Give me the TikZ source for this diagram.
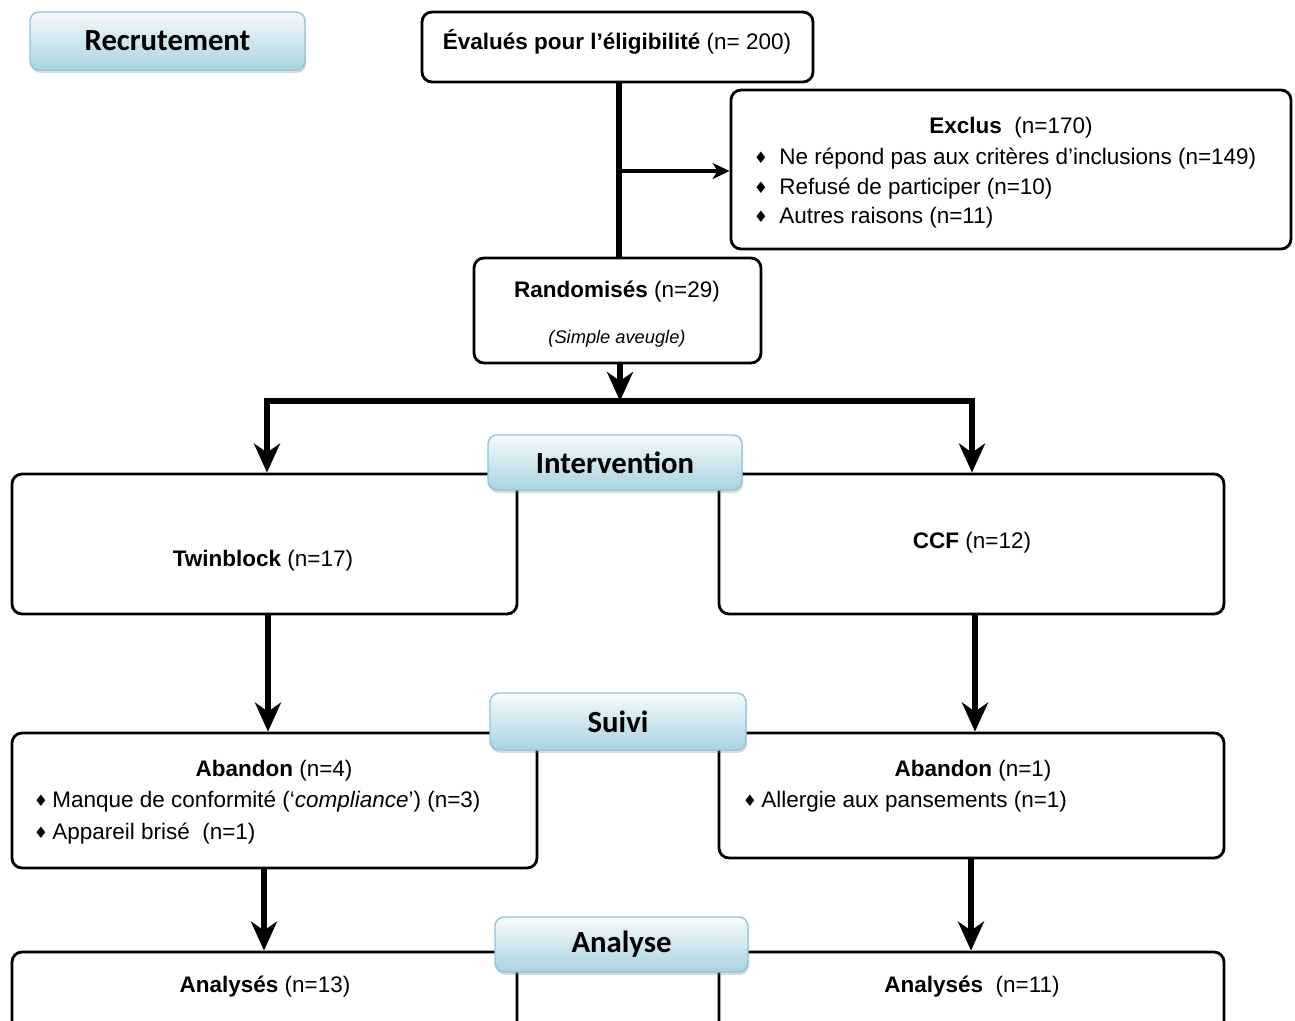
\documentclass[tikz,border=0pt]{standalone}
\usepackage{fontspec}
\setmainfont{Liberation Sans}
\newfontfamily\stagefont{Carlito}
\newfontfamily\symfont{DejaVu Sans}
\usetikzlibrary{arrows.meta,shadows,calc}
\definecolor{stageTop}{HTML}{F6FAFC}
\definecolor{stageBot}{HTML}{A8D3E1}
\definecolor{stageEdge}{HTML}{8FC7D9}
\newcommand\bul{{\symfont\fontsize{9}{9}\selectfont ♦}}
\tikzset{
  head/.tip={Stealth[length=0.58cm, width=0.52cm, inset=0.18cm]},
  sidehead/.tip={Stealth[length=0.34cm, width=0.32cm, inset=0.1cm]}
}

\begin{document}
\begin{tikzpicture}[x=0.02cm,y=-0.02cm,
  every node/.style={font=\fontsize{12.8}{17}\selectfont},
  sz/.style 2 args={minimum width=#1*0.02cm, minimum height=#2*0.02cm},
  box/.style={draw, line width=1.6pt, rounded corners=0.2cm, fill=white, inner sep=0pt},
  stage/.style={draw=stageEdge, line width=0.8pt, rounded corners=0.18cm,
    top color=stageTop, bottom color=stageBot, inner sep=0pt,
    font=\stagefont\bfseries\fontsize{17.5}{20}\selectfont,
    drop shadow={shadow xshift=0.6pt, shadow yshift=-1.6pt, opacity=0.3}},
  txt/.style={inner sep=0pt, anchor=mid},
  ltxt/.style={inner sep=0pt, anchor=mid west},
  small/.style={font=\fontsize{10.4}{12}\selectfont\itshape},
  trunk/.style={line width=3pt},
  flow/.style={trunk, -{head}},
  side/.style={line width=2pt, -{sidehead}}
]
\useasboundingbox (0,0) rectangle (1295,1021);
\clip (0,0) rectangle (1295,1021);
\fill[white] (0,0) rectangle (1295,1021);

% boxes
\node[box, sz={391}{70}] (eval) at (617.5,47) {};
\node[box, sz={560}{159}] (excl) at (1011,169.5) {};
\node[box, sz={287}{105}] (rand) at (617.5,310.5) {};
\node[box, sz={505}{140}] (twin) at (264.5,544) {};
\node[box, sz={505}{140}] (ccf) at (971.5,544) {};
\node[box, sz={525}{135}] (abL) at (274.5,800.5) {};
\node[box, sz={505}{125}] (abR) at (971.5,795.5) {};
\node[box, sz={505}{110}] (anL) at (264.5,1007) {};
\node[box, sz={505}{110}] (anR) at (971.5,1007) {};

% box texts
\node[txt] (evalT) at (617,45) {\textbf{Évalués pour l’éligibilité} (n= 200)};
\node[txt] (exclT) at (1011,129) {\textbf{Exclus}\ \ (n=170)};
\node[txt] (exB1) at (761,159) {\bul};
\node[txt] (exB2) at (761,189) {\bul};
\node[txt] (exB3) at (761,218) {\bul};
\node[ltxt] (ex1) at (779,160) {Ne répond pas aux critères d’inclusions (n=149)};
\node[ltxt] (ex2) at (779,190) {Refusé de participer (n=10)};
\node[ltxt] (ex3) at (779,219) {Autres raisons (n=11)};
\node[txt] (randT) at (617,293) {\textbf{Randomisés} (n=29)};
\node[txt, small] (randS) at (617,339) {(Simple aveugle)};
\node[txt] (twinT) at (263,562) {\textbf{Twinblock} (n=17)};
\node[txt] (ccfT) at (972,544) {\textbf{CCF} (n=12)};
\node[txt] (abLT) at (274,772) {\textbf{Abandon} (n=4)};
\node[txt] (abLB1) at (41,802) {\bul};
\node[txt] (abLB2) at (41,834) {\bul};
\node[ltxt] (abL1) at (52,803) {Manque de conformité (‘\textit{compliance}’) (n=3)};
\node[ltxt] (abL2) at (52,835) {Appareil brisé\ \ (n=1)};
\node[txt] (abRT) at (973,772) {\textbf{Abandon} (n=1)};
\node[txt] (abRB1) at (750,802) {\bul};
\node[ltxt] (abR1) at (761,803) {Allergie aux pansements (n=1)};
\node[txt] (anLT) at (265,988) {\textbf{Analysés} (n=13)};
\node[txt] (anRT) at (972,988) {\textbf{Analysés}\ \ (n=11)};

% connectors
\coordinate (brk) at (619,171);
\coordinate (split) at (620,401);
\coordinate (splitL) at (267,401);
\coordinate (splitR) at (972,401);
\draw[trunk] (eval.south -| brk) -- (rand.north -| brk);
\draw[side] (brk) -- (excl.west |- brk);
\draw[flow] (rand.south -| split) -- (split);
\draw[trunk, {head}-{head}] (twin.north -| splitL) -- (splitL) -- (splitR) -- (ccf.north -| splitR);
\draw[flow] (twin.south -| 268,0) -- (abL.north -| 268,0);
\draw[flow] (ccf.south -| 975,0) -- (abR.north -| 975,0);
\draw[flow] (abL.south -| 264,0) -- (anL.north -| 264,0);
\draw[flow] (abR.south -| 971,0) -- (anR.north -| 971,0);

% stage labels
\node[stage, sz={275}{58}] (recr) at (167.5,41) {Recrutement};
\node[stage, sz={254}{55}] (interv) at (615,462.5) {Intervention};
\node[stage, sz={256}{57}] (suivi) at (618,721.5) {Suivi};
\node[stage, sz={253}{55}] (analyse) at (621.5,944.5) {Analyse};
\end{tikzpicture}
\end{document}
